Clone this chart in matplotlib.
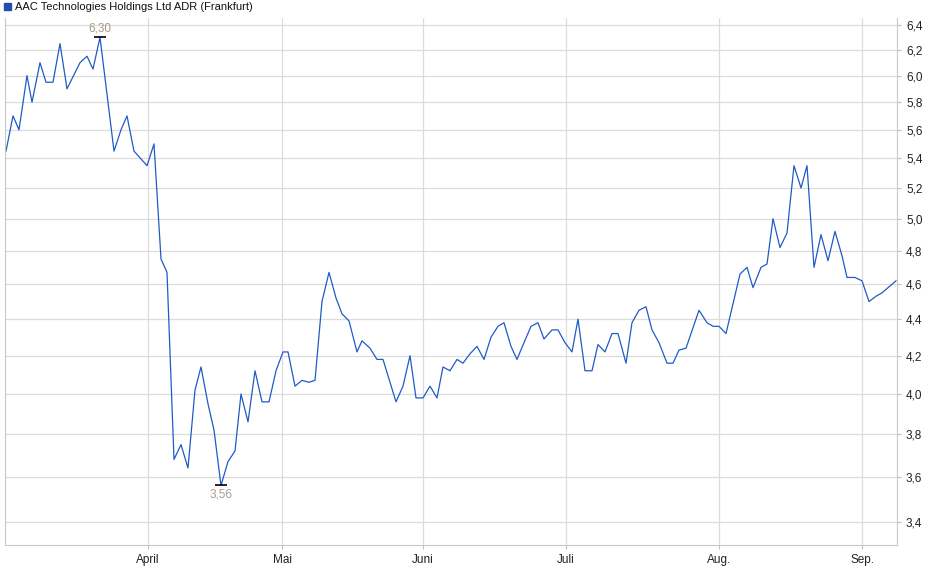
import matplotlib
matplotlib.use("Agg")
import matplotlib.pyplot as plt
from matplotlib.ticker import FixedLocator, NullLocator

plt.rcParams["font.family"] = ["Liberation Sans", "DejaVu Sans"]

# position along the time axis (trading-session units) and price
pos = [6, 13, 19, 27, 32, 40, 46, 53, 60, 67, 80, 87, 93, 100, 114, 121, 127, 134,
       147, 154, 161, 167, 174, 181, 188, 195, 201, 208, 214, 221, 228, 235, 241,
       248, 255, 262, 269, 276, 283, 288, 295, 302, 309, 315, 322, 329, 336, 342,
       349, 357, 362, 370, 377, 383, 390, 396, 403, 410, 416, 423, 430, 437, 443,
       450, 457, 463, 470, 477, 484, 491, 498, 504, 511, 517, 524, 531, 538, 544,
       552, 558, 565, 572, 578, 585, 592, 598, 605, 612, 618, 626, 632, 639, 646,
       652, 659, 667, 673, 679, 686, 699, 707, 713, 719, 726, 740, 747, 753, 761,
       767, 773, 780, 787, 794, 801, 807, 814, 821, 828, 835, 842, 847, 855, 862,
       869, 876, 882, 896]
price = [5.45, 5.70, 5.60, 6.00, 5.80, 6.10, 5.95, 5.95, 6.25, 5.90, 6.10, 6.15, 6.05, 6.30,
         5.45, 5.60, 5.70, 5.45, 5.35, 5.50, 4.75, 4.67, 3.68, 3.75, 3.64, 4.02, 4.14,
         3.95, 3.82, 3.56, 3.67, 3.72, 4.00, 3.86, 4.12, 3.96, 3.96, 4.12, 4.22, 4.22,
         4.04, 4.07, 4.06, 4.07, 4.50, 4.67, 4.52, 4.43, 4.39, 4.22, 4.28, 4.24, 4.18,
         4.18, 4.06, 3.96, 4.04, 4.20, 3.98, 3.98, 4.04, 3.98, 4.14, 4.12, 4.18, 4.16,
         4.21, 4.25, 4.18, 4.30, 4.36, 4.38, 4.25, 4.18, 4.27, 4.36, 4.38, 4.29, 4.34,
         4.34, 4.27, 4.22, 4.40, 4.12, 4.12, 4.26, 4.22, 4.32, 4.32, 4.16, 4.38, 4.45,
         4.47, 4.34, 4.27, 4.16, 4.16, 4.23, 4.24, 4.45, 4.38, 4.36, 4.36, 4.32, 4.66,
         4.70, 4.58, 4.70, 4.72, 5.00, 4.82, 4.91, 5.35, 5.20, 5.35, 4.70, 4.90, 4.74,
         4.92, 4.77, 4.64, 4.64, 4.62, 4.50, 4.53, 4.55, 4.62]

month_pos = [148, 282, 423, 566, 719, 862]
month_labels = ["April", "Mai", "Juni", "Juli", "Aug.", "Sep."]
y_ticks = [3.4, 3.6, 3.8, 4.0, 4.2, 4.4, 4.6, 4.8, 5.0, 5.2, 5.4, 5.6, 5.8, 6.0, 6.2, 6.4]
title = "AAC Technologies Holdings Ltd ADR (Frankfurt)"

fig = plt.figure(figsize=(9.4, 5.79), dpi=100)
ax = fig.add_axes([5 / 940, 34 / 579, 892 / 940, 527 / 579])

ax.plot(pos, price, color="#1f5bc6", lw=0.9)
ax.set_yscale("log")
ax.set_ylim(3.30, 6.457)
ax.set_xlim(5, 897)

ax.yaxis.set_major_locator(FixedLocator(y_ticks))
ax.yaxis.set_minor_locator(NullLocator())
ax.set_yticklabels([f"{v:.1f}".replace(".", ",") for v in y_ticks])
ax.yaxis.tick_right()
ax.set_xticks(month_pos)
ax.set_xticklabels(month_labels)
ax.tick_params(labelsize=8.5, length=3, color="#c0c0c0", colors="#222222")
ax.grid(True, color="#dcdcdc", lw=0.9)
for s in ax.spines.values():
    s.set_color("#c8c8c8")
ax.spines["top"].set_visible(False)

# high / low markers
i_hi = price.index(max(price))
i_lo = price.index(min(price))
for i, va, dy in [(i_hi, "bottom", 2), (i_lo, "top", -2)]:
    ax.plot(pos[i], price[i], marker="_", ms=8, mew=1.2, color="black")
    ax.annotate(f"{price[i]:.2f}".replace(".", ","), (pos[i], price[i]),
                xytext=(0, dy), textcoords="offset points", ha="center", va=va,
                fontsize=8.5, color="#a89a8a")

# legend-like title
fig.patches.append(plt.Rectangle((4 / 940, 1 - 10 / 579), 7 / 940, 7 / 579,
                                 transform=fig.transFigure, color="#1f4fa8"))
fig.text(15 / 940, 1 - 6.5 / 579, title, fontsize=8, va="center", color="#111111")

fig.savefig("out.png", dpi=100)
